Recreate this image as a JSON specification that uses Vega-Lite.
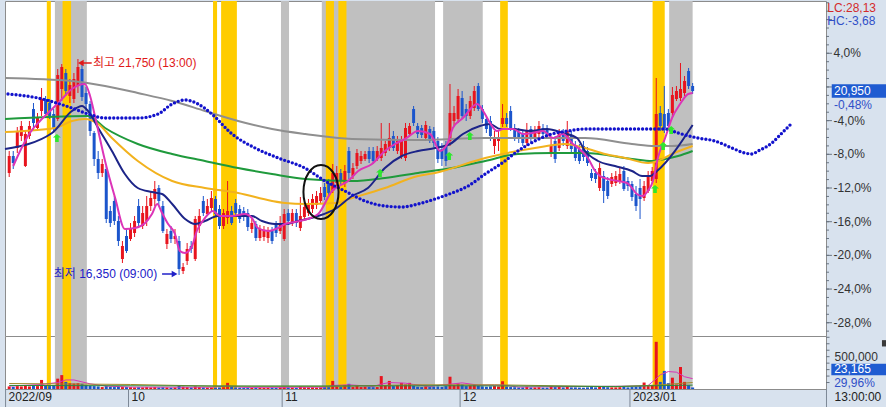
{
"$schema":"https://vega.github.io/schema/vega-lite/v6.json",
"background":"#d8e2ee",
"padding":{"left":0,"top":0,"right":2,"bottom":0},
"bounds":"flush",
"spacing":0,
"config":{"view":{"fill":"#ffffff","stroke":"#8c8c8c","strokeWidth":1},"font":"Liberation Sans"},
"datasets":{
"bars":[
{"t":0,"o":18900,"h":19450,"l":18800,"c":19325,"v":40000},
{"t":1,"o":19325,"h":19450,"l":19000,"c":19150,"v":35000},
{"t":2,"o":19525,"h":20050,"l":19400,"c":19950,"v":45000},
{"t":3,"o":19825,"h":20200,"l":19700,"c":20075,"v":40000},
{"t":4,"o":19075,"h":19950,"l":19050,"c":19875,"v":60000},
{"t":5,"o":19825,"h":20200,"l":19750,"c":20075,"v":40000},
{"t":6,"o":20500,"h":20650,"l":19950,"c":20150,"v":55000},
{"t":7,"o":20025,"h":20400,"l":19950,"c":20275,"v":45000},
{"t":8,"o":20450,"h":21025,"l":20325,"c":20750,"v":140000},
{"t":9,"o":20750,"h":20825,"l":20300,"c":20375,"v":50000},
{"t":10,"o":20650,"h":20750,"l":20250,"c":20325,"v":45000},
{"t":11,"o":20375,"h":20500,"l":19900,"c":20025,"v":55000},
{"t":12,"o":20250,"h":21500,"l":20200,"c":21350,"v":160000},
{"t":13,"o":21000,"h":21625,"l":20700,"c":21550,"v":215000},
{"t":14,"o":21400,"h":21500,"l":20825,"c":20950,"v":110000},
{"t":15,"o":20825,"h":21250,"l":20650,"c":21100,"v":90000},
{"t":16,"o":20750,"h":21400,"l":20650,"c":21250,"v":85000},
{"t":17,"o":21075,"h":21750,"l":20900,"c":21550,"v":90000},
{"t":18,"o":21500,"h":21600,"l":20700,"c":20800,"v":80000},
{"t":19,"o":20900,"h":21050,"l":20450,"c":20625,"v":60000},
{"t":20,"o":20625,"h":20700,"l":19825,"c":19950,"v":50000},
{"t":21,"o":19900,"h":19950,"l":19075,"c":19250,"v":45000},
{"t":22,"o":19250,"h":19450,"l":18750,"c":18900,"v":40000},
{"t":23,"o":18900,"h":19250,"l":18800,"c":19125,"v":30000},
{"t":24,"o":19000,"h":19075,"l":17650,"c":17750,"v":45000},
{"t":25,"o":17950,"h":18075,"l":17550,"c":17650,"v":35000},
{"t":26,"o":18200,"h":18325,"l":17600,"c":17700,"v":30000},
{"t":27,"o":17700,"h":17825,"l":17075,"c":17200,"v":35000},
{"t":28,"o":16750,"h":17200,"l":16650,"c":17075,"v":30000},
{"t":29,"o":17325,"h":17500,"l":16900,"c":16950,"v":30000},
{"t":30,"o":17250,"h":17650,"l":17200,"c":17500,"v":28000},
{"t":31,"o":17400,"h":17825,"l":17300,"c":17700,"v":25000},
{"t":32,"o":18075,"h":18250,"l":17575,"c":17650,"v":28000},
{"t":33,"o":17575,"h":18075,"l":17500,"c":17900,"v":25000},
{"t":34,"o":17700,"h":18325,"l":17575,"c":18075,"v":30000},
{"t":35,"o":18075,"h":18450,"l":17950,"c":18275,"v":25000},
{"t":36,"o":18250,"h":18700,"l":18075,"c":18500,"v":30000},
{"t":37,"o":18525,"h":18600,"l":18075,"c":18200,"v":25000},
{"t":38,"o":18075,"h":18200,"l":17400,"c":17450,"v":28000},
{"t":39,"o":17125,"h":17500,"l":17000,"c":17375,"v":25000},
{"t":40,"o":17450,"h":17575,"l":17150,"c":17250,"v":22000},
{"t":41,"o":17250,"h":17500,"l":17125,"c":17325,"v":25000},
{"t":42,"o":17200,"h":17325,"l":16350,"c":16500,"v":50000},
{"t":43,"o":16450,"h":16650,"l":16375,"c":16550,"v":35000},
{"t":44,"o":16700,"h":17150,"l":16600,"c":17000,"v":30000},
{"t":45,"o":17075,"h":17200,"l":16900,"c":17000,"v":25000},
{"t":46,"o":16750,"h":17825,"l":16700,"c":17750,"v":40000},
{"t":47,"o":17575,"h":18000,"l":17400,"c":17825,"v":30000},
{"t":48,"o":18200,"h":18325,"l":17825,"c":17900,"v":25000},
{"t":49,"o":17875,"h":18250,"l":17825,"c":18075,"v":22000},
{"t":50,"o":18025,"h":18450,"l":17950,"c":18275,"v":25000},
{"t":51,"o":18250,"h":18325,"l":17800,"c":17875,"v":22000},
{"t":52,"o":18000,"h":18100,"l":17500,"c":17575,"v":25000},
{"t":53,"o":17575,"h":18000,"l":17500,"c":17900,"v":28000},
{"t":54,"o":17775,"h":18700,"l":17625,"c":17950,"v":95000},
{"t":55,"o":17950,"h":18075,"l":17600,"c":17650,"v":30000},
{"t":56,"o":18150,"h":18250,"l":17800,"c":17900,"v":25000},
{"t":57,"o":18000,"h":18100,"l":17650,"c":17750,"v":22000},
{"t":58,"o":17950,"h":18050,"l":17700,"c":17800,"v":20000},
{"t":59,"o":17900,"h":18000,"l":17450,"c":17550,"v":22000},
{"t":60,"o":17500,"h":17750,"l":17400,"c":17650,"v":20000},
{"t":61,"o":17625,"h":17700,"l":17200,"c":17275,"v":22000},
{"t":62,"o":17275,"h":17600,"l":17200,"c":17500,"v":20000},
{"t":63,"o":17300,"h":17575,"l":17200,"c":17475,"v":18000},
{"t":64,"o":17275,"h":17550,"l":17150,"c":17450,"v":20000},
{"t":65,"o":17450,"h":17550,"l":17125,"c":17200,"v":22000},
{"t":66,"o":17600,"h":17700,"l":17300,"c":17400,"v":20000},
{"t":67,"o":17450,"h":17825,"l":17375,"c":17650,"v":25000},
{"t":68,"o":17250,"h":18000,"l":17200,"c":17875,"v":35000},
{"t":69,"o":17900,"h":18000,"l":17600,"c":17700,"v":25000},
{"t":70,"o":17650,"h":18000,"l":17575,"c":17900,"v":22000},
{"t":71,"o":17900,"h":18000,"l":17550,"c":17650,"v":20000},
{"t":72,"o":17525,"h":18300,"l":17450,"c":17825,"v":40000},
{"t":73,"o":17800,"h":18200,"l":17700,"c":18050,"v":28000},
{"t":74,"o":17900,"h":18250,"l":17825,"c":18125,"v":25000},
{"t":75,"o":18000,"h":18375,"l":17900,"c":18250,"v":25000},
{"t":76,"o":18100,"h":18450,"l":18000,"c":18325,"v":22000},
{"t":77,"o":18200,"h":18550,"l":18125,"c":18400,"v":25000},
{"t":78,"o":18550,"h":18650,"l":18225,"c":18300,"v":30000},
{"t":79,"o":18650,"h":18750,"l":18325,"c":18400,"v":28000},
{"t":80,"o":18450,"h":19125,"l":18400,"c":18900,"v":125000},
{"t":81,"o":18650,"h":19075,"l":18575,"c":18900,"v":40000},
{"t":82,"o":18900,"h":19000,"l":18600,"c":18700,"v":30000},
{"t":83,"o":18650,"h":19100,"l":18550,"c":18950,"v":60000},
{"t":84,"o":19450,"h":19550,"l":18750,"c":18900,"v":80000},
{"t":85,"o":18825,"h":19150,"l":18750,"c":19025,"v":30000},
{"t":86,"o":19075,"h":19500,"l":19000,"c":19400,"v":50000},
{"t":87,"o":19200,"h":19450,"l":19125,"c":19325,"v":30000},
{"t":88,"o":19250,"h":19450,"l":19200,"c":19375,"v":35000},
{"t":89,"o":19450,"h":19550,"l":19150,"c":19250,"v":30000},
{"t":90,"o":19450,"h":19550,"l":19125,"c":19200,"v":28000},
{"t":91,"o":19250,"h":19575,"l":19200,"c":19450,"v":30000},
{"t":92,"o":19275,"h":20150,"l":19200,"c":19525,"v":200000},
{"t":93,"o":19400,"h":19700,"l":19325,"c":19625,"v":60000},
{"t":94,"o":19525,"h":20150,"l":19450,"c":19775,"v":125000},
{"t":95,"o":19825,"h":19950,"l":19450,"c":19525,"v":45000},
{"t":96,"o":19450,"h":19825,"l":19375,"c":19700,"v":60000},
{"t":97,"o":19325,"h":19825,"l":19250,"c":19750,"v":95000},
{"t":98,"o":19275,"h":20150,"l":19200,"c":20025,"v":70000},
{"t":99,"o":19875,"h":20150,"l":19800,"c":20075,"v":95000},
{"t":100,"o":20500,"h":20575,"l":20075,"c":20150,"v":50000},
{"t":101,"o":20075,"h":20150,"l":19775,"c":19875,"v":35000},
{"t":102,"o":20025,"h":20100,"l":19775,"c":19850,"v":30000},
{"t":103,"o":19775,"h":20200,"l":19700,"c":20100,"v":40000},
{"t":104,"o":20000,"h":20075,"l":19650,"c":19700,"v":30000},
{"t":105,"o":19950,"h":20050,"l":19550,"c":19650,"v":35000},
{"t":106,"o":19700,"h":19800,"l":19150,"c":19250,"v":40000},
{"t":107,"o":19500,"h":19650,"l":19075,"c":19250,"v":35000},
{"t":108,"o":19575,"h":19700,"l":19075,"c":19200,"v":45000},
{"t":109,"o":19700,"h":21125,"l":19575,"c":20400,"v":190000},
{"t":110,"o":20200,"h":20575,"l":20075,"c":20400,"v":60000},
{"t":111,"o":20250,"h":21000,"l":20150,"c":20825,"v":85000},
{"t":112,"o":20775,"h":20950,"l":20250,"c":20325,"v":70000},
{"t":113,"o":20500,"h":20625,"l":20200,"c":20325,"v":45000},
{"t":114,"o":20325,"h":20825,"l":20250,"c":20700,"v":55000},
{"t":115,"o":20525,"h":21075,"l":20450,"c":20950,"v":60000},
{"t":116,"o":21075,"h":21150,"l":20450,"c":20500,"v":50000},
{"t":117,"o":20500,"h":20600,"l":20150,"c":20250,"v":40000},
{"t":118,"o":20250,"h":20325,"l":19900,"c":20000,"v":35000},
{"t":119,"o":20200,"h":20325,"l":19700,"c":19825,"v":40000},
{"t":120,"o":19575,"h":19950,"l":19375,"c":19775,"v":45000},
{"t":121,"o":19700,"h":19950,"l":19450,"c":19800,"v":40000},
{"t":122,"o":20125,"h":20625,"l":20050,"c":20275,"v":120000},
{"t":123,"o":20275,"h":20400,"l":20050,"c":20125,"v":35000},
{"t":124,"o":20450,"h":20575,"l":19950,"c":20025,"v":30000},
{"t":125,"o":20025,"h":20125,"l":19700,"c":19800,"v":28000},
{"t":126,"o":19925,"h":20025,"l":19650,"c":19800,"v":25000},
{"t":127,"o":19875,"h":19950,"l":19575,"c":19650,"v":25000},
{"t":128,"o":19650,"h":20150,"l":19575,"c":19950,"v":35000},
{"t":129,"o":20000,"h":20075,"l":19650,"c":19750,"v":25000},
{"t":130,"o":19750,"h":20075,"l":19675,"c":19950,"v":25000},
{"t":131,"o":19875,"h":20200,"l":19800,"c":20075,"v":28000},
{"t":132,"o":20025,"h":20125,"l":19775,"c":19875,"v":22000},
{"t":133,"o":20000,"h":20100,"l":19750,"c":19850,"v":22000},
{"t":134,"o":19400,"h":19750,"l":19300,"c":19575,"v":40000},
{"t":135,"o":19700,"h":19825,"l":19150,"c":19250,"v":30000},
{"t":136,"o":19525,"h":20000,"l":19450,"c":19875,"v":35000},
{"t":137,"o":19875,"h":20000,"l":19575,"c":19700,"v":25000},
{"t":138,"o":19575,"h":20200,"l":19500,"c":19950,"v":40000},
{"t":139,"o":19825,"h":19950,"l":19400,"c":19500,"v":25000},
{"t":140,"o":19575,"h":19700,"l":19200,"c":19275,"v":25000},
{"t":141,"o":19500,"h":19625,"l":19125,"c":19200,"v":22000},
{"t":142,"o":19575,"h":19700,"l":19200,"c":19300,"v":20000},
{"t":143,"o":19450,"h":19550,"l":19075,"c":19150,"v":25000},
{"t":144,"o":18900,"h":19000,"l":18700,"c":18775,"v":30000},
{"t":145,"o":18900,"h":19000,"l":18650,"c":18750,"v":25000},
{"t":146,"o":18525,"h":19150,"l":18450,"c":19025,"v":35000},
{"t":147,"o":18825,"h":18950,"l":18150,"c":18450,"v":40000},
{"t":148,"o":18700,"h":18800,"l":18250,"c":18325,"v":28000},
{"t":149,"o":18625,"h":18900,"l":18550,"c":18800,"v":25000},
{"t":150,"o":18650,"h":18950,"l":18575,"c":18825,"v":25000},
{"t":151,"o":18700,"h":19050,"l":18625,"c":18875,"v":28000},
{"t":152,"o":18950,"h":19075,"l":18450,"c":18500,"v":35000},
{"t":153,"o":18700,"h":18800,"l":18450,"c":18575,"v":25000},
{"t":154,"o":18625,"h":18700,"l":18200,"c":18300,"v":30000},
{"t":155,"o":18375,"h":18575,"l":17950,"c":18075,"v":35000},
{"t":156,"o":18525,"h":18750,"l":17750,"c":18250,"v":45000},
{"t":157,"o":18275,"h":18700,"l":18200,"c":18575,"v":100000},
{"t":158,"o":18450,"h":18950,"l":18400,"c":18825,"v":45000},
{"t":159,"o":18700,"h":19050,"l":18625,"c":18950,"v":60000},
{"t":160,"o":18750,"h":21275,"l":18650,"c":20375,"v":730000},
{"t":161,"o":20400,"h":20575,"l":19950,"c":20075,"v":110000},
{"t":162,"o":20375,"h":21075,"l":19900,"c":20025,"v":280000},
{"t":163,"o":20400,"h":20500,"l":20000,"c":20075,"v":90000},
{"t":164,"o":20400,"h":21050,"l":20300,"c":20850,"v":175000},
{"t":165,"o":20750,"h":21075,"l":20700,"c":20950,"v":70000},
{"t":166,"o":20775,"h":21650,"l":20700,"c":21000,"v":340000},
{"t":167,"o":20900,"h":21325,"l":20825,"c":21200,"v":110000},
{"t":168,"o":21450,"h":21525,"l":21000,"c":21075,"v":60000},
{"t":169,"o":21075,"h":21150,"l":20875,"c":20950,"v":23165}
],
"bands":[
{"a":11.3,"b":19.2,"k":"g"},{"a":67.2,"b":69.2,"k":"g"},{"a":77.3,"b":105.3,"k":"g"},{"a":107.3,"b":117.1,"k":"g"},{"a":163.2,"b":169.0,"k":"g"},
{"a":9.3,"b":10.3,"k":"y"},{"a":13.2,"b":15.3,"k":"y"},{"a":50.4,"b":51.4,"k":"y"},{"a":52.4,"b":56.3,"k":"y"},{"a":78.3,"b":80.3,"k":"y"},{"a":81.4,"b":83.4,"k":"y"},{"a":121.4,"b":123.3,"k":"y"},{"a":159.1,"b":162.1,"k":"y"}
],
"pticks":[
{"p":23156.1,"m":0,"lab":""},{"p":22945.6,"m":0,"lab":""},{"p":22735.1,"m":1,"lab":""},{"p":22524.6,"m":0,"lab":""},{"p":22314.1,"m":0,"lab":""},{"p":22103.6,"m":0,"lab":""},{"p":21893.0,"m":1,"lab":"4,0%"},{"p":21682.5,"m":0,"lab":""},{"p":21472.0,"m":0,"lab":""},{"p":21261.5,"m":0,"lab":""},{"p":21051,"m":1,"lab":""},{"p":20840.5,"m":0,"lab":""},{"p":20630.0,"m":0,"lab":""},{"p":20419.5,"m":0,"lab":""},{"p":20209.0,"m":1,"lab":"-4,0%"},{"p":19998.5,"m":0,"lab":""},{"p":19787.9,"m":0,"lab":""},{"p":19577.4,"m":0,"lab":""},{"p":19366.9,"m":1,"lab":"-8,0%"},{"p":19156.4,"m":0,"lab":""},{"p":18945.9,"m":0,"lab":""},{"p":18735.4,"m":0,"lab":""},{"p":18524.9,"m":1,"lab":"-12,0%"},{"p":18314.4,"m":0,"lab":""},{"p":18103.9,"m":0,"lab":""},{"p":17893.4,"m":0,"lab":""},{"p":17682.8,"m":1,"lab":"-16,0%"},{"p":17472.3,"m":0,"lab":""},{"p":17261.8,"m":0,"lab":""},{"p":17051.3,"m":0,"lab":""},{"p":16840.8,"m":1,"lab":"-20,0%"},{"p":16630.3,"m":0,"lab":""},{"p":16419.8,"m":0,"lab":""},{"p":16209.3,"m":0,"lab":""},{"p":15998.8,"m":1,"lab":"-24,0%"},{"p":15788.3,"m":0,"lab":""},{"p":15577.7,"m":0,"lab":""},{"p":15367.2,"m":0,"lab":""},{"p":15156.7,"m":1,"lab":"-28,0%"},{"p":14946.2,"m":0,"lab":""}
],
"vticks":[
{"v":100000,"lab":""},{"v":200000,"lab":""},{"v":300000,"lab":""},{"v":400000,"lab":""},{"v":500000,"lab":"500,000"},{"v":600000,"lab":""},{"v":700000,"lab":""},{"v":800000,"lab":""}
],
"months":[{"t":-0.9,"lab":"2022/09"},{"t":29.5,"lab":"10"},{"t":67.5,"lab":"11"},{"t":111.5,"lab":"12"},{"t":153.5,"lab":"2023/01"},{"t":202.1,"lab":""}],
"ma":[
{"s":"m240","t":-1.04,"p":21275},{"s":"m240","t":15.5,"p":21200},{"s":"m240","t":23.7,"p":21075},{"s":"m240","t":31.8,"p":20900},{"s":"m240","t":40.3,"p":20700},{"s":"m240","t":48.4,"p":20450},{"s":"m240","t":56.6,"p":20200},{"s":"m240","t":65.0,"p":20000},{"s":"m240","t":73.2,"p":19875},{"s":"m240","t":84.8,"p":19750},{"s":"m240","t":101.1,"p":19725},{"s":"m240","t":117.7,"p":19775},{"s":"m240","t":142.4,"p":19775},{"s":"m240","t":154.0,"p":19625},{"s":"m240","t":159.7,"p":19575},{"s":"m240","t":163.9,"p":19575},{"s":"m240","t":169,"p":19625},
{"s":"m120","t":-1.04,"p":20250},{"s":"m120","t":19.5,"p":20325},{"s":"m120","t":23.7,"p":20025},{"s":"m120","t":31.8,"p":19625},{"s":"m120","t":40.3,"p":19375},{"s":"m120","t":48.4,"p":19200},{"s":"m120","t":56.6,"p":19025},{"s":"m120","t":65.0,"p":18875},{"s":"m120","t":73.2,"p":18750},{"s":"m120","t":84.8,"p":18700},{"s":"m120","t":92.9,"p":18775},{"s":"m120","t":101.1,"p":18900},{"s":"m120","t":109.5,"p":19025},{"s":"m120","t":117.7,"p":19200},{"s":"m120","t":125.8,"p":19375},{"s":"m120","t":134.2,"p":19400},{"s":"m120","t":142.4,"p":19400},{"s":"m120","t":154.0,"p":19250},{"s":"m120","t":159.0,"p":19200},{"s":"m120","t":162.2,"p":19250},{"s":"m120","t":165.4,"p":19325},{"s":"m120","t":169,"p":19450},
{"s":"m60","t":-1.04,"p":19925},{"s":"m60","t":11.3,"p":20025},{"s":"m60","t":15.5,"p":20200},{"s":"m60","t":18.7,"p":20250},{"s":"m60","t":22.0,"p":20125},{"s":"m60","t":25.4,"p":19775},{"s":"m60","t":31.8,"p":19200},{"s":"m60","t":40.3,"p":18700},{"s":"m60","t":48.4,"p":18525},{"s":"m60","t":56.6,"p":18400},{"s":"m60","t":65.0,"p":18200},{"s":"m60","t":68.2,"p":18150},{"s":"m60","t":73.2,"p":18125},{"s":"m60","t":80.6,"p":18150},{"s":"m60","t":84.8,"p":18275},{"s":"m60","t":92.9,"p":18525},{"s":"m60","t":101.1,"p":18825},{"s":"m60","t":105.3,"p":18900},{"s":"m60","t":117.7,"p":19275},{"s":"m60","t":130.0,"p":19525},{"s":"m60","t":137.4,"p":19625},{"s":"m60","t":142.4,"p":19525},{"s":"m60","t":147.3,"p":19375},{"s":"m60","t":152.3,"p":19275},{"s":"m60","t":158.0,"p":19150},{"s":"m60","t":160.4,"p":19200},{"s":"m60","t":163.9,"p":19375},{"s":"m60","t":169,"p":19575},
{"s":"m20","t":-1.04,"p":19500},{"s":"m20","t":10.6,"p":19900},{"s":"m20","t":15.5,"p":20450},{"s":"m20","t":18.0,"p":20575},{"s":"m20","t":19.5,"p":20450},{"s":"m20","t":22.0,"p":20025},{"s":"m20","t":25.4,"p":19450},{"s":"m20","t":28.6,"p":18875},{"s":"m20","t":31.8,"p":18525},{"s":"m20","t":35.3,"p":18425},{"s":"m20","t":37.8,"p":18375},{"s":"m20","t":40.3,"p":18125},{"s":"m20","t":43.5,"p":17750},{"s":"m20","t":46.0,"p":17625},{"s":"m20","t":48.4,"p":17700},{"s":"m20","t":51.6,"p":17825},{"s":"m20","t":56.6,"p":17825},{"s":"m20","t":60.0,"p":17825},{"s":"m20","t":62.5,"p":17700},{"s":"m20","t":65.7,"p":17625},{"s":"m20","t":68.2,"p":17625},{"s":"m20","t":71.4,"p":17700},{"s":"m20","t":76.4,"p":17825},{"s":"m20","t":80.6,"p":18000},{"s":"m20","t":84.8,"p":18325},{"s":"m20","t":88.7,"p":18525},{"s":"m20","t":92.9,"p":19025},{"s":"m20","t":97.1,"p":19325},{"s":"m20","t":101.1,"p":19450},{"s":"m20","t":105.3,"p":19525},{"s":"m20","t":109.0,"p":19625},{"s":"m20","t":112.2,"p":19875},{"s":"m20","t":116.4,"p":20075},{"s":"m20","t":118.9,"p":20125},{"s":"m20","t":121.4,"p":20000},{"s":"m20","t":124.6,"p":20000},{"s":"m20","t":128.8,"p":19950},{"s":"m20","t":133.0,"p":20000},{"s":"m20","t":136.9,"p":19900},{"s":"m20","t":140.4,"p":19775},{"s":"m20","t":142.4,"p":19450},{"s":"m20","t":145.6,"p":19200},{"s":"m20","t":149.8,"p":19075},{"s":"m20","t":154.0,"p":18950},{"s":"m20","t":156.5,"p":18825},{"s":"m20","t":158.5,"p":18825},{"s":"m20","t":160.2,"p":18950},{"s":"m20","t":169,"p":20100},
{"s":"m5","t":1.0,"p":19075},{"s":"m5","t":2.7,"p":19450},{"s":"m5","t":5.1,"p":19900},{"s":"m5","t":7.6,"p":20200},{"s":"m5","t":10.1,"p":20450},{"s":"m5","t":12.6,"p":20700},{"s":"m5","t":15.5,"p":21000},{"s":"m5","t":18.7,"p":21125},{"s":"m5","t":20.0,"p":20825},{"s":"m5","t":21.2,"p":20325},{"s":"m5","t":23.7,"p":19200},{"s":"m5","t":26.2,"p":18275},{"s":"m5","t":28.6,"p":17500},{"s":"m5","t":31.1,"p":17525},{"s":"m5","t":33.6,"p":17650},{"s":"m5","t":35.3,"p":17875},{"s":"m5","t":36.6,"p":18125},{"s":"m5","t":37.8,"p":17900},{"s":"m5","t":39.3,"p":17625},{"s":"m5","t":41.0,"p":17375},{"s":"m5","t":42.2,"p":16950},{"s":"m5","t":43.5,"p":16900},{"s":"m5","t":45.2,"p":17075},{"s":"m5","t":46.4,"p":17450},{"s":"m5","t":48.4,"p":17775},{"s":"m5","t":50.4,"p":17950},{"s":"m5","t":52.1,"p":17825},{"s":"m5","t":55.1,"p":17825},{"s":"m5","t":58.3,"p":17875},{"s":"m5","t":60.0,"p":17775},{"s":"m5","t":61.5,"p":17525},{"s":"m5","t":64.0,"p":17450},{"s":"m5","t":66.5,"p":17525},{"s":"m5","t":68.2,"p":17625},{"s":"m5","t":71.9,"p":17700},{"s":"m5","t":76.4,"p":17875},{"s":"m5","t":79.8,"p":18450},{"s":"m5","t":83.8,"p":18700},{"s":"m5","t":86.3,"p":18950},{"s":"m5","t":89.7,"p":19125},{"s":"m5","t":92.9,"p":19450},{"s":"m5","t":95.4,"p":19625},{"s":"m5","t":97.9,"p":19750},{"s":"m5","t":101.1,"p":19950},{"s":"m5","t":104.1,"p":19875},{"s":"m5","t":106.5,"p":19450},{"s":"m5","t":108.3,"p":19625},{"s":"m5","t":109.7,"p":20025},{"s":"m5","t":112.2,"p":20275},{"s":"m5","t":115.7,"p":20625},{"s":"m5","t":117.2,"p":20450},{"s":"m5","t":118.9,"p":20150},{"s":"m5","t":120.6,"p":19950},{"s":"m5","t":122.1,"p":20000},{"s":"m5","t":124.6,"p":20000},{"s":"m5","t":127.1,"p":19875},{"s":"m5","t":129.5,"p":19900},{"s":"m5","t":132.0,"p":19950},{"s":"m5","t":134.5,"p":19775},{"s":"m5","t":136.9,"p":19875},{"s":"m5","t":139.4,"p":19625},{"s":"m5","t":140.7,"p":19525},{"s":"m5","t":143.1,"p":19275},{"s":"m5","t":144.9,"p":18950},{"s":"m5","t":146.1,"p":18825},{"s":"m5","t":148.1,"p":18750},{"s":"m5","t":150.5,"p":18700},{"s":"m5","t":152.8,"p":18650},{"s":"m5","t":154.0,"p":18525},{"s":"m5","t":155.2,"p":18375},{"s":"m5","t":156.7,"p":18325},{"s":"m5","t":157.9,"p":18450},{"s":"m5","t":159.2,"p":18700},{"s":"m5","t":160.4,"p":19275},{"s":"m5","t":162.2,"p":19775},{"s":"m5","t":163.9,"p":20275},{"s":"m5","t":165.9,"p":20625},{"s":"m5","t":167.9,"p":20875},{"s":"m5","t":169,"p":20900}
],
"cloud":[
{"t":-0.3,"p":20875},{"t":7.1,"p":20775},{"t":15.5,"p":20525},{"t":19.5,"p":20375},{"t":23.7,"p":20275},{"t":31.9,"p":20275},{"t":36.8,"p":20375},{"t":40.3,"p":20625},{"t":43.5,"p":20725},{"t":46.7,"p":20625},{"t":50.1,"p":20375},{"t":55.1,"p":19875},{"t":60.8,"p":19525},{"t":66.5,"p":19275},{"t":73.1,"p":19025},{"t":78.1,"p":18700},{"t":83.0,"p":18450},{"t":88.0,"p":18200},{"t":92.9,"p":18075},{"t":97.1,"p":18050},{"t":101.1,"p":18125},{"t":105.3,"p":18250},{"t":109.5,"p":18400},{"t":113.5,"p":18575},{"t":117.7,"p":18875},{"t":121.9,"p":19150},{"t":125.8,"p":19450},{"t":130.0,"p":19700},{"t":134.2,"p":19875},{"t":138.2,"p":19950},{"t":142.4,"p":20000},{"t":158.0,"p":20000},{"t":162.2,"p":20000},{"t":165.4,"p":19900},{"t":170.3,"p":19775},{"t":174.5,"p":19700},{"t":178.7,"p":19525},{"t":181.9,"p":19400},{"t":183.7,"p":19375},{"t":185.2,"p":19450},{"t":188.6,"p":19650},{"t":191.1,"p":19900},{"t":193.6,"p":20150}
],
"vma":[
{"s":"v5","t":0,"v":45000},{"s":"v5","t":8,"v":70000},{"s":"v5","t":12,"v":100000},{"s":"v5","t":14,"v":140000},{"s":"v5","t":16,"v":140000},{"s":"v5","t":18,"v":110000},{"s":"v5","t":20,"v":80000},{"s":"v5","t":24,"v":45000},{"s":"v5","t":30,"v":30000},{"s":"v5","t":50,"v":28000},{"s":"v5","t":54,"v":45000},{"s":"v5","t":58,"v":25000},{"s":"v5","t":78,"v":28000},{"s":"v5","t":80,"v":55000},{"s":"v5","t":84,"v":65000},{"s":"v5","t":90,"v":40000},{"s":"v5","t":92,"v":75000},{"s":"v5","t":94,"v":100000},{"s":"v5","t":98,"v":90000},{"s":"v5","t":100,"v":70000},{"s":"v5","t":104,"v":40000},{"s":"v5","t":109,"v":75000},{"s":"v5","t":112,"v":95000},{"s":"v5","t":116,"v":60000},{"s":"v5","t":122,"v":60000},{"s":"v5","t":126,"v":30000},{"s":"v5","t":156,"v":45000},{"s":"v5","t":158,"v":55000},{"s":"v5","t":160,"v":160000},{"s":"v5","t":161,"v":220000},{"s":"v5","t":163,"v":270000},{"s":"v5","t":165,"v":260000},{"s":"v5","t":167,"v":190000},{"s":"v5","t":169,"v":160000},
{"s":"v20","t":0,"v":85000},{"s":"v20","t":30,"v":70000},{"s":"v20","t":50,"v":45000},{"s":"v20","t":80,"v":40000},{"s":"v20","t":100,"v":65000},{"s":"v20","t":120,"v":65000},{"s":"v20","t":150,"v":35000},{"s":"v20","t":160,"v":60000},{"s":"v20","t":169,"v":100000},
{"s":"v60","t":0,"v":55000},{"s":"v60","t":60,"v":45000},{"s":"v60","t":110,"v":50000},{"s":"v60","t":150,"v":40000},{"s":"v60","t":169,"v":60000}
]
},
"vconcat":[
{"width":821,"height":335,
 "resolve":{"scale":{"color":"independent"}},
 "layer":[
  {"data":{"name":"bands"},"mark":{"type":"rect"},
   "encoding":{"x":{"field":"a","type":"quantitative","scale":{"domain":[-1.04,201.98],"nice":false,"zero":false},"axis":null},"x2":{"field":"b"},
   "color":{"field":"k","type":"nominal","scale":{"domain":["g","y"],"range":["#c0c0c0","#ffcc00"]},"legend":null}}},
  {"data":{"name":"bars"},"mark":{"type":"rule","strokeWidth":1},
   "encoding":{"x":{"field":"t","type":"quantitative","axis":null},
   "y":{"field":"l","type":"quantitative","scale":{"domain":[14825,23200],"nice":false,"zero":false},"axis":null},
   "y2":{"field":"h"},
   "color":{"condition":{"test":"datum.c > datum.o","value":"#e8141e"},"value":"#1b55cc"}}},
  {"data":{"name":"bars"},"mark":{"type":"rule","strokeWidth":3},
   "encoding":{"x":{"field":"t","type":"quantitative","axis":null},"y":{"field":"o","type":"quantitative","axis":null},"y2":{"field":"c"},
   "color":{"condition":{"test":"datum.c > datum.o","value":"#e8141e"},"value":"#1b55cc"}}},
  {"data":{"name":"ma"},"mark":{"type":"line","strokeWidth":2,"interpolate":"monotone"},
   "encoding":{"x":{"field":"t","type":"quantitative","axis":null},"y":{"field":"p","type":"quantitative","axis":null},
   "color":{"field":"s","type":"nominal","scale":{"domain":["m240","m120","m60","m20","m5"],"range":["#8f8f8f","#1f9a3c","#f2b21e","#1c2488","#dc34b8"]},"legend":null}}},
  {"data":{"name":"cloud"},"mark":{"type":"line","color":"#1212cc","strokeWidth":3.4,"strokeDash":[0,4.04],"strokeCap":"round","interpolate":"monotone"},
   "encoding":{"x":{"field":"t","type":"quantitative","axis":null},"y":{"field":"p","type":"quantitative","axis":null}}},
  {"data":{"values":[{"t":11.8,"p":19775},{"t":91.7,"p":18900},{"t":108.8,"p":19325},{"t":113.9,"p":19825},{"t":159.7,"p":18500},{"t":161.7,"p":19575},{"t":163.7,"p":19975}]},
   "mark":{"type":"point","shape":"M0,-1L1,-0.1L0.45,-0.1L0.45,1L-0.45,1L-0.45,-0.1L-1,-0.1Z","size":64,"filled":true,"color":"#2ee82e","opacity":1},
   "encoding":{"x":{"field":"t","type":"quantitative","axis":null},"y":{"field":"p","type":"quantitative","axis":null}}},
  {"data":{"values":[{"t":77.1,"p":18425}]},
   "mark":{"type":"point","shape":"M0,-1C0.359,-1,0.65,-0.552,0.65,0C0.65,0.552,0.359,1,0,1C-0.359,1,-0.65,0.552,-0.65,0C-0.65,-0.552,-0.359,-1,0,-1Z","size":2916,"filled":false,"stroke":"#111111","strokeWidth":2,"opacity":1},
   "encoding":{"x":{"field":"t","type":"quantitative","axis":null},"y":{"field":"p","type":"quantitative","axis":null}}},
  {"data":{"values":[{"t":18.0,"t2":20.4,"p":21650}]},"mark":{"type":"rule","color":"#e01818","strokeWidth":1.5},
   "encoding":{"x":{"field":"t","type":"quantitative","axis":null},"x2":{"field":"t2"},"y":{"field":"p","type":"quantitative","axis":null}}},
  {"data":{"values":[{"t":17.7,"p":21650}]},"mark":{"type":"point","shape":"triangle-left","size":45,"filled":true,"color":"#e01818","opacity":1},
   "encoding":{"x":{"field":"t","type":"quantitative","axis":null},"y":{"field":"p","type":"quantitative","axis":null}}},
  {"data":{"values":[{"t":20.7,"p":21650,"txt":"최고 21,750 (13:00)"}]},"mark":{"type":"text","align":"left","baseline":"middle","font":"Liberation Sans, Noto Sans CJK KR","fontSize":12,"color":"#e01818"},
   "encoding":{"x":{"field":"t","type":"quantitative","axis":null},"y":{"field":"p","type":"quantitative","axis":null},"text":{"field":"txt"}}},
  {"data":{"values":[{"t":37.8,"t2":40.6,"p":16375}]},"mark":{"type":"rule","color":"#2020c8","strokeWidth":1.5},
   "encoding":{"x":{"field":"t","type":"quantitative","axis":null},"x2":{"field":"t2"},"y":{"field":"p","type":"quantitative","axis":null}}},
  {"data":{"values":[{"t":40.9,"p":16375}]},"mark":{"type":"point","shape":"triangle-right","size":45,"filled":true,"color":"#2020c8","opacity":1},
   "encoding":{"x":{"field":"t","type":"quantitative","axis":null},"y":{"field":"p","type":"quantitative","axis":null}}},
  {"data":{"values":[{"t":36.6,"p":16375,"txt":"최저 16,350 (09:00)"}]},"mark":{"type":"text","align":"right","baseline":"middle","font":"Liberation Sans, Noto Sans CJK KR","fontSize":12,"color":"#2020c8"},
   "encoding":{"x":{"field":"t","type":"quantitative","axis":null},"y":{"field":"p","type":"quantitative","axis":null},"text":{"field":"txt"}}},
  {"data":{"name":"pticks"},"mark":{"type":"rule","color":"#6a7480","strokeWidth":1},
   "encoding":{"x":{"datum":201.98,"type":"quantitative","axis":null},"x2":{"datum":202.72},"y":{"field":"p","type":"quantitative","axis":null}}},
  {"data":{"name":"pticks"},"transform":[{"filter":"datum.m == 1"}],"mark":{"type":"rule","color":"#6a7480","strokeWidth":1},
   "encoding":{"x":{"datum":201.98,"type":"quantitative","axis":null},"x2":{"datum":203.45},"y":{"field":"p","type":"quantitative","axis":null}}},
  {"data":{"name":"pticks"},"transform":[{"filter":"datum.lab != ''"}],"mark":{"type":"text","align":"left","baseline":"middle","font":"Liberation Sans","fontSize":12,"color":"#333333"},
   "encoding":{"x":{"datum":203.83,"type":"quantitative","axis":null},"y":{"field":"p","type":"quantitative","axis":null},"text":{"field":"lab"}}},
  {"data":{"values":[{"t":202.3,"p":23025,"txt":"LC:28,13","k":"lc"},{"t":202.3,"p":22700,"txt":"HC:-3,68","k":"hc"},{"t":203.95,"p":20610,"txt":"-0,48%","k":"hc"}]},
   "mark":{"type":"text","align":"left","baseline":"middle","font":"Liberation Sans","fontSize":12},
   "encoding":{"x":{"field":"t","type":"quantitative","axis":null},"y":{"field":"p","type":"quantitative","axis":null},"text":{"field":"txt"},
   "color":{"condition":{"test":"datum.k == 'lc'","value":"#d42a2a"},"value":"#3050c8"}}},
  {"data":{"values":[{"t":203.4,"t2":217.3,"p":21118,"p2":20783}]},"mark":{"type":"rect","color":"#1f5bd1"},
   "encoding":{"x":{"field":"t","type":"quantitative","axis":null},"x2":{"field":"t2"},"y":{"field":"p","type":"quantitative","axis":null},"y2":{"field":"p2"}}},
  {"data":{"values":[{"t":203.95,"p":20950,"txt":"20,950"}]},"mark":{"type":"text","align":"left","baseline":"middle","font":"Liberation Sans","fontSize":12,"color":"#ffffff"},
   "encoding":{"x":{"field":"t","type":"quantitative","axis":null},"y":{"field":"p","type":"quantitative","axis":null},"text":{"field":"txt"}}}
 ]},
{"width":821,"height":53,
 "resolve":{"scale":{"color":"independent"}},
 "layer":[
  {"data":{"name":"bands"},"mark":{"type":"rect"},
   "encoding":{"x":{"field":"a","type":"quantitative","scale":{"domain":[-1.04,201.98],"nice":false,"zero":false},"axis":null},
   "x2":{"field":"b"},
   "color":{"field":"k","type":"nominal","scale":{"domain":["g","y"],"range":["#c0c0c0","#ffcc00"]},"legend":null}}},
  {"data":{"name":"bars"},"mark":{"type":"rule","strokeWidth":3},
   "encoding":{"x":{"field":"t","type":"quantitative","axis":null},
   "y":{"field":"v","type":"quantitative","scale":{"domain":[0,820000],"nice":false,"zero":false},"axis":null},
   "y2":{"datum":0},
   "color":{"condition":{"test":"datum.c > datum.o","value":"#e8141e"},"value":"#1b55cc"}}},
  {"data":{"name":"vma"},"mark":{"type":"line","strokeWidth":1},
   "encoding":{"x":{"field":"t","type":"quantitative","axis":null},"y":{"field":"v","type":"quantitative","axis":null},
   "color":{"field":"s","type":"nominal","scale":{"domain":["v60","v20","v5"],"range":["#2a8a3a","#a08a2a","#d934b8"]},"legend":null}}},
  {"data":{"name":"months"},"mark":{"type":"rule","color":"#7d8896","strokeWidth":1},
   "encoding":{"x":{"field":"t","type":"quantitative","axis":null},"y":{"datum":0,"type":"quantitative","axis":null},"y2":{"datum":-300000}}},
  {"data":{"name":"months"},"mark":{"type":"text","align":"left","baseline":"middle","dx":3,"font":"Liberation Sans","fontSize":12,"color":"#222222"},
   "encoding":{"x":{"field":"t","type":"quantitative","axis":null},"y":{"datum":-123800,"type":"quantitative","axis":null},"text":{"field":"lab"}}},
  {"data":{"name":"vticks"},"mark":{"type":"rule","color":"#6a7480","strokeWidth":1},
   "encoding":{"x":{"datum":201.98,"type":"quantitative","axis":null},"x2":{"datum":202.85},"y":{"field":"v","type":"quantitative","axis":null}}},
  {"data":{"name":"vticks"},"transform":[{"filter":"datum.lab != ''"}],"mark":{"type":"text","align":"left","baseline":"middle","font":"Liberation Sans","fontSize":12,"color":"#333333"},
   "encoding":{"x":{"datum":204.1,"type":"quantitative","axis":null},"y":{"field":"v","type":"quantitative","axis":null},"text":{"field":"lab"}}},
  {"data":{"values":[{"t":203.3,"t2":217.6,"v":391400,"v2":211900}]},"mark":{"type":"rect","color":"#1f5bd1"},
   "encoding":{"x":{"field":"t","type":"quantitative","axis":null},"x2":{"field":"t2"},"y":{"field":"v","type":"quantitative","axis":null},"y2":{"field":"v2"}}},
  {"data":{"values":[{"t":204.0,"v":301700,"txt":"23,165","k":"w"},{"t":204.0,"v":100000,"txt":"29,96%","k":"b"},{"t":204.1,"v":-123800,"txt":"13:00:00","k":"k"}]},
   "mark":{"type":"text","align":"left","baseline":"middle","font":"Liberation Sans","fontSize":12},
   "encoding":{"x":{"field":"t","type":"quantitative","axis":null},"y":{"field":"v","type":"quantitative","axis":null},"text":{"field":"txt"},
   "color":{"condition":[{"test":"datum.k == 'w'","value":"#ffffff"},{"test":"datum.k == 'b'","value":"#3050c8"}],"value":"#222222"}}},
  {"data":{"values":[{"t":216.6,"v":707000}]},"mark":{"type":"point","shape":"square","size":40,"filled":true,"color":"#3a3a3a","opacity":1},
   "encoding":{"x":{"field":"t","type":"quantitative","axis":null},"y":{"field":"v","type":"quantitative","axis":null}}}
 ]}
]
}
